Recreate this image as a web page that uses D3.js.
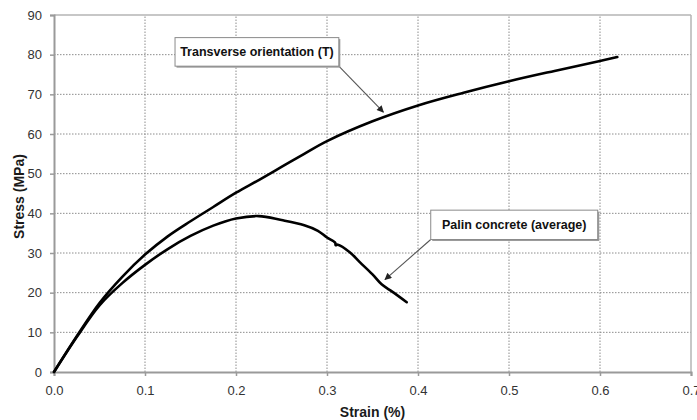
<!DOCTYPE html>
<html>
<head>
<meta charset="utf-8">
<script src="https://cdn.jsdelivr.net/npm/d3@7"></script>
<style>
html,body{margin:0;padding:0;background:#fff;}
svg{display:block;font-family:Arial,"Liberation Sans",sans-serif;}
</style>
</head>
<body>
<svg id="chart" width="697" height="420"></svg>
<script>
// ---- data ----
const transverseStrain = [0, 0.025, 0.05, 0.075, 0.1, 0.125, 0.15, 0.175, 0.2, 0.225, 0.25, 0.275, 0.3, 0.35, 0.4, 0.45, 0.5, 0.55, 0.6, 0.619];
const transverseStress = [0, 9.0, 17.4, 24.0, 29.6, 34.2, 38.0, 41.6, 45.2, 48.4, 51.7, 55.0, 58.2, 63.2, 67.2, 70.4, 73.3, 75.9, 78.4, 79.4];
const plainStrain = [0, 0.025, 0.05, 0.075, 0.1, 0.125, 0.15, 0.175, 0.2, 0.225, 0.25, 0.275, 0.29, 0.3, 0.309, 0.3095, 0.312, 0.325, 0.336, 0.35, 0.36, 0.372, 0.3876];
const plainStress = [0, 8.8, 16.8, 22.4, 27.0, 31.0, 34.3, 36.9, 38.7, 39.3, 38.3, 37.0, 35.6, 33.9, 32.6, 32.0, 32.1, 30.2, 27.7, 24.6, 22.1, 20.2, 17.6];
const xTicks = [0, 0.1, 0.2, 0.3, 0.4, 0.5, 0.6, 0.7];
const yTicks = [0, 10, 20, 30, 40, 50, 60, 70, 80, 90];
const labelT = "Transverse orientation (T)";
const labelP = "Palin concrete (average)";
const xTitle = "Strain (%)";
const yTitle = "Stress (MPa)";

// ---- layout ----
const svg = d3.select("#chart");
const x = d3.scaleLinear().domain([0, 0.7]).range([54, 691]);
const y = d3.scaleLinear().domain([0, 90]).range([372, 15]);

// gridlines
svg.append("g").selectAll("line").data(yTicks.filter(d => d > 0 && d < 90)).join("line")
  .attr("x1", x(0)).attr("x2", x(0.7)).attr("y1", d => y(d)).attr("y2", d => y(d))
  .attr("stroke", "#8c8c8c").attr("stroke-width", 1).attr("stroke-dasharray", "1.5,1.5");
svg.append("g").selectAll("line").data(xTicks.filter(d => d > 0 && d < 0.7)).join("line")
  .attr("y1", y(0)).attr("y2", y(90)).attr("x1", d => x(d)).attr("x2", d => x(d))
  .attr("stroke", "#8c8c8c").attr("stroke-width", 1).attr("stroke-dasharray", "1.5,1.5");
// top and right frame
svg.append("line").attr("x1", x(0)).attr("x2", x(0.7)).attr("y1", y(90)).attr("y2", y(90))
  .attr("stroke", "#b4b4b4").attr("stroke-width", 1.5);
svg.append("line").attr("x1", x(0.7)).attr("x2", x(0.7)).attr("y1", y(0)).attr("y2", y(90))
  .attr("stroke", "#b4b4b4").attr("stroke-width", 1.5);

// axes
const xAxis = svg.append("g").attr("transform", `translate(0,${y(0)})`)
  .call(d3.axisBottom(x).tickValues(xTicks).tickFormat(d3.format(".1f")).tickSize(4).tickPadding(10));
const yAxis = svg.append("g").attr("transform", `translate(${x(0)},0)`)
  .call(d3.axisLeft(y).tickValues(yTicks).tickFormat(d3.format("d")).tickSize(4).tickPadding(8));
[xAxis, yAxis].forEach(g => {
  g.select(".domain").attr("stroke", "#9a9a9a").attr("stroke-width", 2);
  g.selectAll(".tick line").attr("stroke", "#9a9a9a").attr("stroke-width", 1.5);
  g.selectAll("text").attr("fill", "#333").style("font-size", "13px")
    .style("font-family", "Arial, 'Liberation Sans', sans-serif");
});

// curves
const line = d3.line().x(d => x(d[0])).y(d => y(d[1])).curve(d3.curveCatmullRom.alpha(0.5));
svg.append("path").datum(d3.zip(transverseStrain, transverseStress)).attr("d", line)
  .attr("fill", "none").attr("stroke", "#000").attr("stroke-width", 2.6).attr("stroke-linecap", "round");
svg.append("path").datum(d3.zip(plainStrain, plainStress)).attr("d", line)
  .attr("fill", "none").attr("stroke", "#000").attr("stroke-width", 2.6).attr("stroke-linecap", "round").attr("stroke-linejoin", "round");

// axis titles
svg.append("text").attr("x", (x(0) + x(0.7)) / 2).attr("y", 417).attr("text-anchor", "middle")
  .attr("font-weight", "bold").attr("font-size", 14).attr("fill", "#1a1a1a").text(xTitle);
svg.append("text").attr("transform", `translate(24,${(y(0) + y(90)) / 2 + 3}) rotate(-90)`).attr("text-anchor", "middle")
  .attr("font-weight", "bold").attr("font-size", 14).attr("fill", "#1a1a1a").text(yTitle);

// annotations
const defs = svg.append("defs");
defs.append("marker").attr("id", "arr").attr("viewBox", "0 0 10 10").attr("refX", 9).attr("refY", 5)
  .attr("markerWidth", 9).attr("markerHeight", 7).attr("orient", "auto").attr("markerUnits", "userSpaceOnUse")
  .append("path").attr("d", "M0,0 L10,5 L0,10 z").attr("fill", "#222");

function callout(x0, x1, yTop, yBot, label, fromX, fromY, toX, toY) {
  const bx = x(x0), by = y(yTop), bw = x(x1) - x(x0), bh = y(yBot) - y(yTop);
  svg.append("line").attr("x1", x(fromX)).attr("y1", y(fromY)).attr("x2", x(toX)).attr("y2", y(toY))
    .attr("stroke", "#555").attr("stroke-width", 1.1).attr("marker-end", "url(#arr)");
  svg.append("rect").attr("x", bx + 1.5).attr("y", by + 1.5).attr("width", bw).attr("height", bh).attr("fill", "#9a9a9a");
  svg.append("rect").attr("x", bx).attr("y", by).attr("width", bw).attr("height", bh)
    .attr("fill", "#fff").attr("stroke", "#8a8a8a").attr("stroke-width", 1);
  svg.append("text").attr("x", bx + bw / 2).attr("y", by + bh / 2 + 4.5).attr("text-anchor", "middle")
    .attr("font-weight", "bold").attr("font-size", 12.5).attr("fill", "#111").text(label);
}
callout(0.133, 0.313, 84.3, 77.1, labelT, 0.313, 77.1, 0.362, 65.5);
callout(0.414, 0.5975, 40.8, 33.4, labelP, 0.414, 33.4, 0.3637, 23.3);
</script>
</body>
</html>
